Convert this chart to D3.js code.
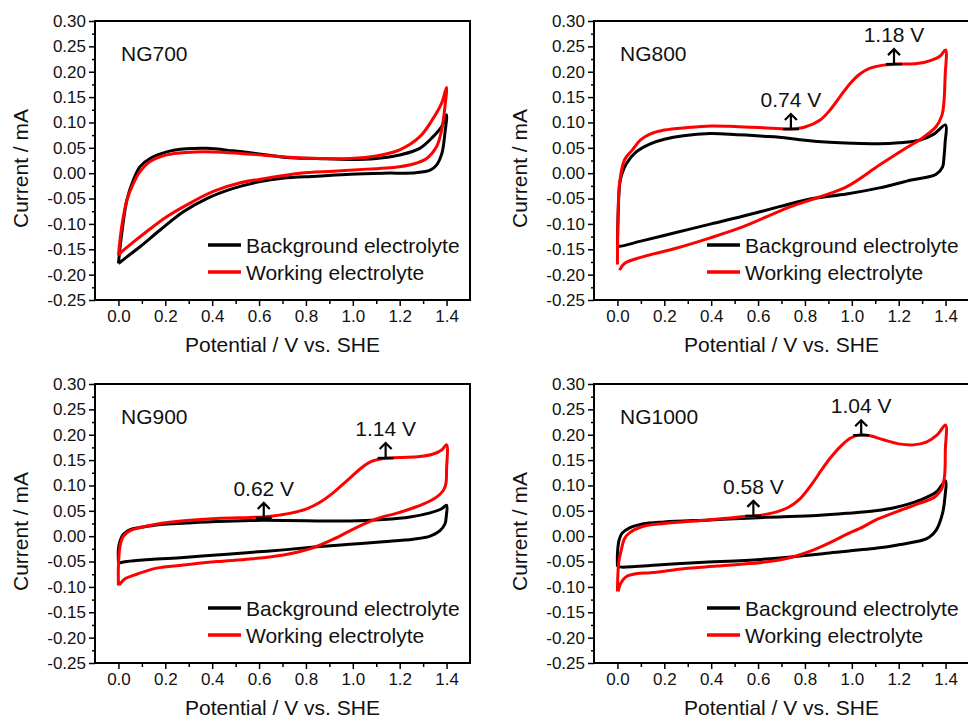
<!DOCTYPE html>
<html>
<head>
<meta charset="utf-8">
<script src="https://cdn.jsdelivr.net/npm/d3@7"></script>
<style>
  body { margin: 0; background: #fff; }
  text { font-family: "Liberation Sans", Arial, sans-serif; fill: #111; }
</style>
</head>
<body>
<div id="chart"></div>
<script>
// Panel names and legend
const panelNames = ["NG700", "NG800", "NG900", "NG1000"];
const seriesNames = ["Background electrolyte", "Working electrolyte"];

// Tick values
const xMajor = [0.0, 0.2, 0.4, 0.6, 0.8, 1.0, 1.2, 1.4];
const xMinor = [0.1, 0.3, 0.5, 0.7, 0.9, 1.1, 1.3];
const yMajor = [-0.25, -0.20, -0.15, -0.10, -0.05, 0.00, 0.05, 0.10, 0.15, 0.20, 0.25, 0.30];
const yMinor = [-0.225, -0.175, -0.125, -0.075, -0.025, 0.025, 0.075, 0.125, 0.175, 0.225, 0.275];

// CV loops as [potential V, current mA], forward sweep then reverse sweep
const ng700Background = [[0,-0.178],[0.014,-0.119],[0.036,-0.053],[0.064,-0.013],[0.092,0.013],[0.135,0.029],[0.206,0.042],[0.29,0.048],[0.377,0.049],[0.49,0.044],[0.60,0.038],[0.72,0.031],[0.846,0.029],[0.988,0.027],[1.10,0.029],[1.20,0.036],[1.286,0.049],[1.343,0.072],[1.379,0.092],[1.40,0.115],
  [1.393,0.079],[1.38,0.039],[1.357,0.016],[1.33,0.006],[1.27,0.001],[1.13,0.0],[0.99,-0.002],[0.846,-0.006],[0.70,-0.010],[0.60,-0.017],[0.49,-0.030],[0.377,-0.050],[0.277,-0.076],[0.178,-0.112],[0.092,-0.145],[0.036,-0.165],[0,-0.178]];
const ng700Working = [[0,-0.162],[0.014,-0.105],[0.036,-0.053],[0.064,-0.020],[0.092,0.003],[0.135,0.023],[0.206,0.036],[0.29,0.041],[0.405,0.042],[0.52,0.039],[0.63,0.035],[0.746,0.031],[0.86,0.029],[0.988,0.029],[1.10,0.034],[1.20,0.046],[1.286,0.072],[1.343,0.108],[1.379,0.138],[1.40,0.169],
  [1.393,0.131],[1.379,0.085],[1.357,0.052],[1.315,0.029],[1.258,0.018],[1.173,0.011],[1.06,0.008],[0.917,0.004],[0.775,0.0],[0.632,-0.010],[0.52,-0.019],[0.405,-0.036],[0.29,-0.063],[0.206,-0.086],[0.121,-0.115],[0.05,-0.141],[0.007,-0.158],[0,-0.162]];

const ng800Background = [[0,-0.143],[0.003,-0.08],[0.01,-0.02],[0.02,0.0],[0.04,0.02],[0.08,0.042],[0.14,0.058],[0.2,0.067],[0.282,0.074],[0.395,0.078],[0.509,0.076],[0.623,0.073],[0.691,0.071],[0.8,0.065],[0.905,0.061],[1.0,0.059],[1.118,0.058],[1.2,0.060],[1.289,0.065],[1.35,0.077],[1.40,0.095],
  [1.398,0.06],[1.393,0.03],[1.387,0.012],[1.36,-0.002],[1.32,-0.008],[1.259,-0.013],[1.118,-0.029],[0.977,-0.041],[0.832,-0.050],[0.691,-0.066],[0.534,-0.085],[0.4,-0.100],[0.25,-0.117],[0.1,-0.134],[0.009,-0.144],[0,-0.143]];
const ng800Working = [[0,-0.18],[0.002,-0.1],[0.009,-0.02],[0.03,0.026],[0.064,0.046],[0.1,0.066],[0.139,0.077],[0.2,0.085],[0.3,0.090],[0.4,0.093],[0.5,0.092],[0.6,0.090],[0.68,0.088],[0.74,0.087],[0.8,0.091],[0.865,0.105],[0.908,0.125],[0.95,0.151],[0.993,0.177],[1.036,0.196],[1.078,0.207],[1.135,0.213],[1.192,0.215],[1.278,0.216],[1.335,0.222],[1.377,0.231],[1.40,0.243],
  [1.398,0.19],[1.393,0.14],[1.385,0.115],[1.36,0.092],[1.30,0.069],[1.233,0.050],[1.118,0.016],[0.977,-0.027],[0.862,-0.047],[0.734,-0.067],[0.534,-0.106],[0.393,-0.128],[0.25,-0.148],[0.107,-0.165],[0.03,-0.178],[0.009,-0.191]];

const ng900Background = [[0,-0.052],[0.0,-0.025],[0.007,-0.009],[0.021,0.004],[0.05,0.013],[0.092,0.017],[0.178,0.023],[0.291,0.026],[0.419,0.029],[0.561,0.031],[0.704,0.031],[0.846,0.030],[0.988,0.030],[1.13,0.033],[1.244,0.038],[1.33,0.046],[1.379,0.054],[1.40,0.061],
  [1.399,0.040],[1.393,0.024],[1.372,0.011],[1.33,0.0],[1.258,-0.006],[1.13,-0.011],[0.988,-0.016],[0.846,-0.021],[0.704,-0.027],[0.561,-0.032],[0.419,-0.037],[0.277,-0.042],[0.135,-0.046],[0.036,-0.050],[0.004,-0.053]];
const ng900Working = [[0,-0.097],[0.0,-0.058],[0.007,-0.019],[0.021,0.0],[0.05,0.011],[0.092,0.017],[0.178,0.025],[0.291,0.031],[0.419,0.035],[0.561,0.037],[0.62,0.038],[0.66,0.040],[0.73,0.045],[0.803,0.054],[0.86,0.067],[0.917,0.086],[0.974,0.109],[1.03,0.132],[1.073,0.146],[1.13,0.153],[1.2,0.155],[1.286,0.157],[1.343,0.162],[1.379,0.170],[1.40,0.180],
  [1.40,0.132],[1.397,0.103],[1.386,0.090],[1.357,0.077],[1.3,0.063],[1.2,0.047],[1.1,0.034],[1.002,0.014],[0.917,-0.006],[0.817,-0.025],[0.704,-0.037],[0.561,-0.045],[0.419,-0.050],[0.277,-0.057],[0.163,-0.063],[0.078,-0.075],[0.028,-0.084],[0.004,-0.096]];

const ng1000Background = [[0,-0.06],[0.0,-0.035],[0.004,-0.015],[0.008,-0.006],[0.02,0.006],[0.05,0.016],[0.107,0.024],[0.2,0.028],[0.39,0.032],[0.576,0.036],[0.691,0.038],[0.85,0.041],[0.977,0.045],[1.1,0.050],[1.19,0.057],[1.29,0.071],[1.36,0.087],[1.40,0.109],
  [1.398,0.080],[1.387,0.045],[1.36,0.012],[1.33,-0.002],[1.30,-0.008],[1.2,-0.017],[1.118,-0.023],[0.905,-0.033],[0.691,-0.043],[0.5,-0.049],[0.39,-0.051],[0.2,-0.056],[0.02,-0.061],[0,-0.06]];
const ng1000Working = [[0,-0.109],[0.002,-0.075],[0.006,-0.05],[0.015,-0.03],[0.03,-0.005],[0.05,0.006],[0.107,0.019],[0.2,0.025],[0.39,0.032],[0.5,0.037],[0.58,0.040],[0.62,0.042],[0.68,0.048],[0.73,0.057],[0.78,0.074],[0.83,0.103],[0.87,0.130],[0.91,0.155],[0.95,0.176],[0.993,0.193],[1.036,0.200],[1.078,0.198],[1.135,0.190],[1.2,0.182],[1.263,0.180],[1.32,0.186],[1.363,0.199],[1.40,0.219],
  [1.399,0.17],[1.396,0.12],[1.385,0.095],[1.374,0.087],[1.35,0.076],[1.29,0.065],[1.19,0.048],[1.107,0.033],[1.046,0.018],[0.975,0.003],[0.905,-0.013],[0.82,-0.030],[0.762,-0.039],[0.691,-0.047],[0.566,-0.054],[0.424,-0.059],[0.282,-0.064],[0.2,-0.069],[0.14,-0.072],[0.08,-0.074],[0.037,-0.080],[0.015,-0.092],[0.003,-0.109]];

// Peak markers: [potential, current, label]
const ng700Peaks = [];
const ng800Peaks = [[0.74, 0.087, "0.74 V"], [1.18, 0.215, "1.18 V"]];
const ng900Peaks = [[0.62, 0.036, "0.62 V"], [1.14, 0.154, "1.14 V"]];
const ng1000Peaks = [[0.58, 0.040, "0.58 V"], [1.04, 0.199, "1.04 V"]];

const backgroundSeries = [ng700Background, ng800Background, ng900Background, ng1000Background];
const workingSeries = [ng700Working, ng800Working, ng900Working, ng1000Working];
const peakSeries = [ng700Peaks, ng800Peaks, ng900Peaks, ng1000Peaks];

// Layout
const plotW = 375, plotH = 279;
const origins = [[95, 21], [594, 21], [95, 384], [594, 384]];
const colors = ["#000000", "#ff0000"];

const svg = d3.select("#chart").append("svg")
    .attr("width", 968).attr("height", 718);

const x = d3.scaleLinear().domain([-0.1, 1.5]).range([0, plotW]);
const y = d3.scaleLinear().domain([-0.25, 0.30]).range([plotH, 0]);

const line = d3.line()
    .x(d => x(d[0]))
    .y(d => y(d[1]))
    .curve(d3.curveCatmullRom.alpha(0.5));

panelNames.forEach((name, i) => {
    const g = svg.append("g")
        .attr("transform", `translate(${origins[i][0]},${origins[i][1]})`);

    // curves
    [backgroundSeries[i], workingSeries[i]].forEach((s, k) => {
        g.append("path")
          .datum(s)
          .attr("fill", "none")
          .attr("stroke", colors[k])
          .attr("stroke-width", 3)
          .attr("stroke-linejoin", "round")
          .attr("d", line);
    });

    // axes: minor then major
    const styleAxis = a => {
        a.select(".domain").remove();
        a.attr("font-size", 17).attr("font-family", "Liberation Sans, Arial, sans-serif");
        a.selectAll("line").attr("stroke", "#000").attr("stroke-width", 1.5);
        a.selectAll("text").attr("fill", "#111");
    };
    g.append("g").attr("transform", `translate(0,${plotH})`)
      .call(d3.axisBottom(x).tickValues(xMinor).tickSize(4).tickFormat(""))
      .call(styleAxis);
    g.append("g").attr("transform", `translate(0,${plotH})`)
      .call(d3.axisBottom(x).tickValues(xMajor).tickSize(6).tickPadding(4).tickFormat(d => d.toFixed(1)))
      .call(styleAxis);
    g.append("g")
      .call(d3.axisLeft(y).tickValues(yMinor).tickSize(3).tickFormat(""))
      .call(styleAxis);
    g.append("g")
      .call(d3.axisLeft(y).tickValues(yMajor).tickSize(6).tickPadding(3).tickFormat(d => d.toFixed(2)))
      .call(styleAxis);

    // frame
    g.append("rect")
      .attr("width", plotW).attr("height", plotH)
      .attr("fill", "none").attr("stroke", "#000").attr("stroke-width", 2);

    // titles
    g.append("text")
      .attr("transform", `translate(-67,${plotH / 2 + 8}) rotate(-90)`)
      .attr("text-anchor", "middle")
      .attr("font-size", 21)
      .text("Current / mA");
    g.append("text")
      .attr("x", plotW / 2).attr("y", plotH + 52)
      .attr("text-anchor", "middle")
      .attr("font-size", 21)
      .text("Potential / V vs. SHE");

    g.append("text")
      .attr("x", 26).attr("y", 40)
      .attr("font-size", 21)
      .text(name);

    // legend
    seriesNames.forEach((s, k) => {
        const ly = 224 + k * 27;
        g.append("line")
          .attr("x1", 113).attr("x2", 146).attr("y1", ly).attr("y2", ly)
          .attr("stroke", colors[k]).attr("stroke-width", 3.5);
        g.append("text")
          .attr("x", 151).attr("y", ly + 7.5)
          .attr("font-size", 21)
          .text(s);
    });

    // peak markers
    peakSeries[i].forEach(p => {
        const px = x(p[0]), py = y(p[1]);
        g.append("line")
          .attr("x1", px - 8).attr("x2", px + 8).attr("y1", py).attr("y2", py)
          .attr("stroke", "#000").attr("stroke-width", 2.5);
        g.append("line")
          .attr("x1", px).attr("x2", px).attr("y1", py).attr("y2", py - 15)
          .attr("stroke", "#000").attr("stroke-width", 2.2);
        g.append("path")
          .attr("d", `M${px - 6},${py - 9}L${px},${py - 15}L${px + 6},${py - 9}`)
          .attr("fill", "none").attr("stroke", "#000").attr("stroke-width", 2.2)
          .attr("stroke-linejoin", "miter");
        g.append("text")
          .attr("x", px).attr("y", py - 22)
          .attr("text-anchor", "middle")
          .attr("font-size", 21)
          .text(p[2]);
    });
});
</script>
</body>
</html>
